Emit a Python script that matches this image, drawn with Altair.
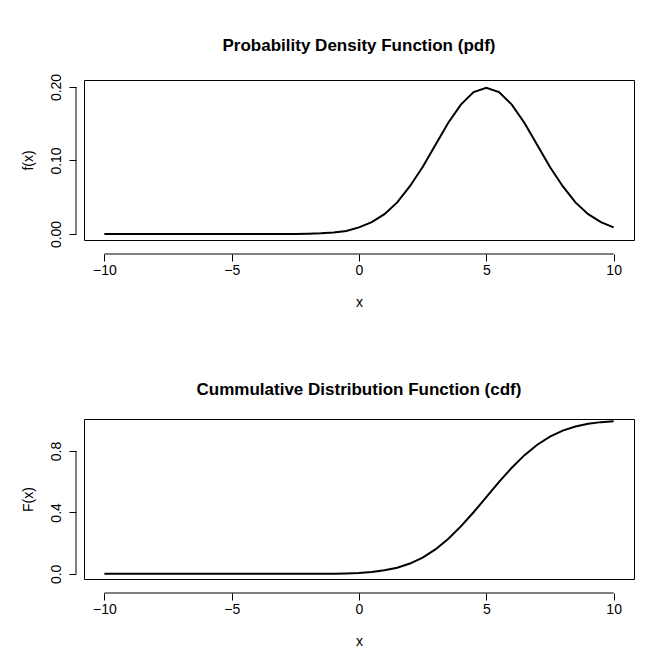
import altair as alt
import pandas as pd

xs = [-10,-9.5,-9,-8.5,-8,-7.5,-7,-6.5,-6,-5.5,-5,-4.5,-4,-3.5,-3,-2.5,-2,-1.5,-1,-0.5,
      0,0.5,1,1.5,2,2.5,3,3.5,4,4.5,5,5.5,6,6.5,7,7.5,8,8.5,9,9.5,10]
pdf = [0,0,0,0,0,0,0,0,0,0,0,0,0,0,0,0,0.0004,0.001,0.002,0.004,
       0.009,0.016,0.027,0.043,0.065,0.091,0.121,0.151,0.176,0.193,0.199,
       0.193,0.176,0.151,0.121,0.091,0.065,0.043,0.027,0.016,0.009]
cdf = [0,0,0,0,0,0,0,0,0,0,0,0,0,0,0,0.0001,0.0002,0.0006,0.0013,0.003,
       0.006,0.012,0.023,0.040,0.067,0.106,0.159,0.227,0.309,0.401,0.5,
       0.599,0.691,0.773,0.841,0.894,0.933,0.960,0.977,0.988,0.994]

df = pd.DataFrame({"x": xs, "pdf": pdf, "cdf": cdf})
F = "Liberation Sans"
W, H = 550, 160

def panel(field, title, ytitle, ydom, yvals, fmt, labeled):
    lab = " || ".join(f"abs(datum.value-{v})<1e-9" for v in labeled)
    xs_ = alt.Scale(domain=[-10.8, 10.8], nice=False, zero=False)
    ys_ = alt.Scale(domain=ydom, nice=False, zero=False)
    line = alt.Chart(df).mark_line(color="black", strokeWidth=2).encode(
        x=alt.X("x:Q", scale=xs_,
                axis=alt.Axis(values=[-10,-5,0,5,10], title="x", grid=False, offset=14,
                              domain=False, titlePadding=18)),
        y=alt.Y(f"{field}:Q", scale=ys_,
                axis=alt.Axis(values=yvals, title=ytitle, grid=False, offset=8, format=fmt,
                              domain=False,
                              labelAngle=-90, labelAlign="center", labelBaseline="bottom",
                              labelPadding=6, titlePadding=14,
                              labelExpr=f"({lab}) ? datum.label : ''")),
    )
    xline = alt.Chart(pd.DataFrame({"a": [-10], "b": [10]})).mark_rule(color="black", clip=False).encode(
        x=alt.X("a:Q", scale=xs_), x2="b:Q", y=alt.value(H + 14))
    yline = alt.Chart(pd.DataFrame({"a": [yvals[0]], "b": [yvals[-1]]})).mark_rule(color="black", clip=False).encode(
        y=alt.Y("a:Q", scale=ys_), y2="b:Q", x=alt.value(-8))
    return alt.layer(line, xline, yline).properties(width=W, height=H,
                 title=alt.TitleParams(title, fontSize=17, fontWeight="bold", font=F, offset=18))

c1 = panel("pdf", "Probability Density Function (pdf)", "f(x)", [-0.0082, 0.2095],
           [0, 0.05, 0.1, 0.15, 0.2], ".2f", [0, 0.1, 0.2])
c2 = panel("cdf", "Cummulative Distribution Function (cdf)", "F(x)", [-0.0336, 1.0084],
           [0, 0.2, 0.4, 0.6, 0.8], ".1f", [0, 0.4, 0.8])

chart = alt.vconcat(c1, c2, spacing=70).configure_view(stroke="black", strokeWidth=1).configure_axis(
    domainColor="black", tickColor="black", labelColor="black", titleColor="black",
    labelFont=F, titleFont=F, labelFontSize=14, titleFontSize=14, titleFontWeight="normal",
    tickSize=7, domainWidth=1
).properties(padding={"left": 12, "top": 28, "right": 10, "bottom": 5})

chart.save("out.html", embed_options={"renderer": "svg", "actions": False})
